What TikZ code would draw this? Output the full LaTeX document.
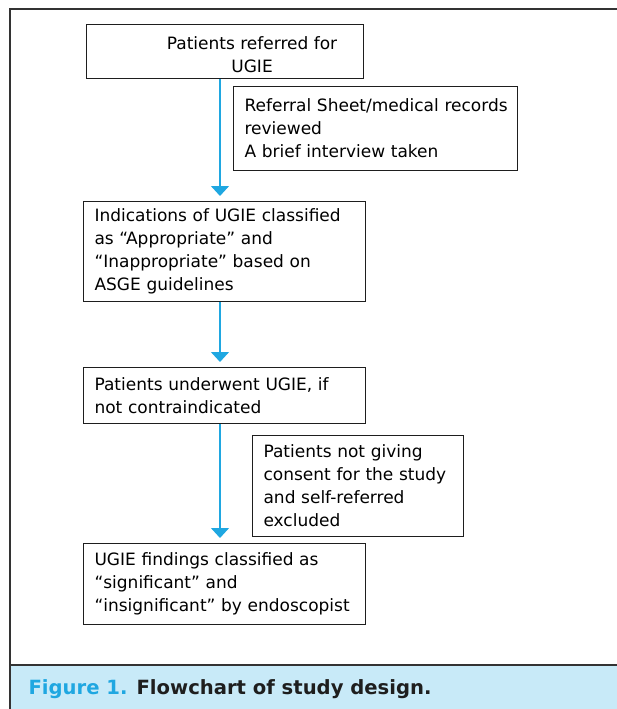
\documentclass[tikz,border=0pt]{standalone}
\usepackage{fontspec}
\setmainfont{DejaVu Sans}
\usepackage{tikz}
\usetikzlibrary{arrows.meta,positioning,calc}
\definecolor{cyanflow}{HTML}{1FA7E1}
\definecolor{captionband}{HTML}{C8EAF8}
\definecolor{frameink}{HTML}{333333}
\definecolor{ink}{HTML}{1E1E1E}

\begin{document}
\begin{tikzpicture}[x=1pt,y=-1pt,
 font=\fontsize{17}{23}\selectfont,
 stepbox/.style={draw=ink,line width=1.1pt,fill=white,anchor=north west,align=left,inner xsep=11pt,inner ysep=0pt},
 flow/.style={draw=cyanflow,line width=1.4pt,-{Triangle[width=18pt,length=10pt]},shorten >=5pt},
 frame/.style={draw=frameink,line width=2.6pt}]
\useasboundingbox (0,0) rectangle (617,709);
% caption band
\fill[captionband] (10,665) rectangle (617,709);
\draw[frame] (10,709) -- (10,9) -- (617,9);
\draw[frame] (10,665) -- (617,665);
\node[anchor=base west,font=\fontsize{19.6}{23}\selectfont\bfseries,text=ink] (caption) at (25,694) {\textcolor{cyanflow}{Figure 1.} Flowchart of study design.};
% boxes
\node[stepbox,minimum width=277pt,minimum height=54pt] (referred) at (86,24) {};
\node[align=center] (referredlbl) at ($(referred.center)+(27,3)$) {Patients referred for\\UGIE};
\node[stepbox,minimum width=284pt,minimum height=84pt,text width=262pt] (records) at (233,86) {\mbox{Referral Sheet/medical records}\\reviewed\\A brief interview taken};
\node[stepbox,minimum width=282pt,minimum height=100pt,text width=260pt] (indic) at (83,201) {Indications of UGIE classified\\as ``Appropriate'' and\\``Inappropriate'' based on\\ASGE guidelines};
\node[stepbox,minimum width=282pt,minimum height=56pt,text width=260pt] (underwent) at (83,367) {Patients underwent UGIE, if\\not contraindicated};
\node[stepbox,minimum width=211pt,minimum height=101pt,text width=189pt] (consent) at (252,435) {Patients not giving\\consent for the study\\and self-referred\\excluded};
\node[stepbox,minimum width=282pt,minimum height=81pt,text width=260pt] (findings) at (83,543) {UGIE findings classified as\\``significant'' and\\``insignificant'' by endoscopist};
% arrows
\coordinate (spine) at (220,0);
\draw[flow] (referred.south -| spine) -- (indic.north -| spine);
\draw[flow] (indic.south -| spine) -- (underwent.north -| spine);
\draw[flow] (underwent.south -| spine) -- (findings.north -| spine);
\end{tikzpicture}
\end{document}
